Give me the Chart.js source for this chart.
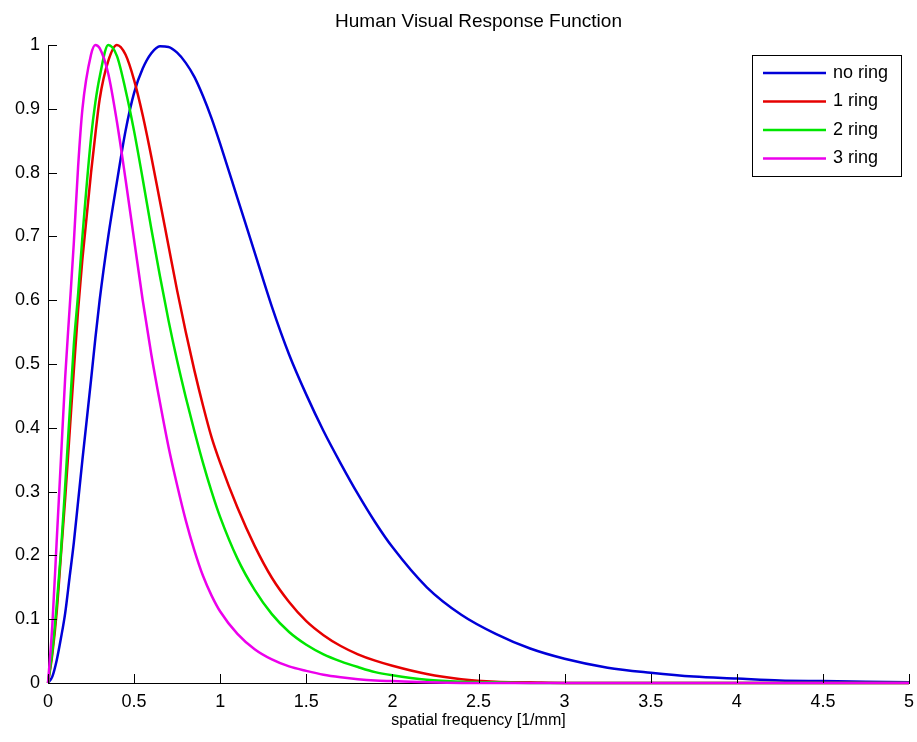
<!DOCTYPE html>
<html lang="en">
<head>
<meta charset="UTF-8">
<title>Human Visual Response Function</title>
<script src="https://cdn.jsdelivr.net/npm/chart.js"></script>
<style>
    html, body { margin: 0; padding: 0; background: #fff; }
    #wrap { width: 917px; height: 742px; position: relative; }
</style>
</head>
<body>
<div id="wrap"><canvas id="grafico"></canvas></div>
<script>
    // spatial frequency [1/mm]
    const freq = [0, 0.025, 0.05, 0.075, 0.1, 0.125, 0.15, 0.175, 0.2, 0.25, 0.275,
        0.3, 0.35, 0.4, 0.45, 0.5, 0.55, 0.6, 0.65, 0.7, 0.75, 0.8, 0.85, 0.9, 0.95, 1.0,
        1.1, 1.2, 1.3, 1.4, 1.5, 1.6, 1.7, 1.8, 1.9, 2.0,
        2.2, 2.4, 2.6, 2.8, 3.0,
        3.25, 3.5, 3.75, 4.0, 4.25, 4.5, 4.75, 5.0];

    const noRing = [0, 0.01, 0.035, 0.07, 0.11, 0.165, 0.22, 0.285, 0.35, 0.475, 0.54,
        0.60, 0.70, 0.785, 0.865, 0.925, 0.963, 0.987, 0.998, 0.997, 0.988, 0.972, 0.950, 0.920, 0.885, 0.845,
        0.760, 0.675, 0.590, 0.515, 0.452, 0.395, 0.344, 0.296, 0.252, 0.213,
        0.150, 0.107, 0.077, 0.054, 0.038,
        0.024, 0.016, 0.010, 0.007, 0.004, 0.003, 0.002, 0.001];

    const oneRing = [0, 0.045, 0.11, 0.2, 0.29, 0.39, 0.49, 0.585, 0.665, 0.80, 0.86,
        0.915, 0.975, 1.0, 0.985, 0.945, 0.89, 0.825, 0.755, 0.685, 0.615, 0.55, 0.49, 0.435, 0.385, 0.345,
        0.275, 0.215, 0.165, 0.127, 0.097, 0.075, 0.058, 0.045, 0.035, 0.027,
        0.014, 0.006, 0.002, 0.001, 0,
        0, 0, 0, 0, 0, 0, 0, 0];

    const twoRing = [0, 0.05, 0.12, 0.205, 0.31, 0.42, 0.53, 0.61, 0.70, 0.855, 0.91,
        0.95, 1.0, 0.983, 0.93, 0.865, 0.79, 0.712, 0.638, 0.568, 0.505, 0.448, 0.395, 0.345, 0.30, 0.26,
        0.195, 0.146, 0.108, 0.080, 0.060, 0.045, 0.034, 0.025, 0.017, 0.012,
        0.005, 0.002, 0.001, 0, 0,
        0, 0, 0, 0, 0, 0, 0, 0];

    const threeRing = [0, 0.09, 0.22, 0.35, 0.48, 0.585, 0.69, 0.81, 0.9, 0.985, 1.0,
        0.995, 0.955, 0.88, 0.79, 0.695, 0.60, 0.515, 0.44, 0.37, 0.31, 0.255, 0.208, 0.168, 0.137, 0.112,
        0.077, 0.053, 0.037, 0.026, 0.019, 0.013, 0.009, 0.006, 0.004, 0.003,
        0.001, 0, 0, 0, 0,
        0, 0, 0, 0, 0, 0, 0, 0];

    const seriesNames = ['no ring', '1 ring', '2 ring', '3 ring'];
    const seriesData = [noRing, oneRing, twoRing, threeRing];
    const seriesColors = ['#0000d8', '#e60000', '#00e600', '#ec00ec'];

    const chartTitle = 'Human Visual Response Function';
    const fontFam = '"Liberation Sans", Arial, Helvetica, sans-serif';

    // matlab style number labels: 1, 0.5, 0.1 ...
    const fmt = v => String(Math.round(v * 100) / 100);

    // title centred over the axes, not over the whole canvas
    const axesTitle = {
        id: 'axesTitle',
        afterDraw(chart) {
            const ctx = chart.ctx;
            const area = chart.chartArea;
            ctx.save();
            ctx.fillStyle = '#000';
            ctx.font = '19px ' + fontFam;
            ctx.textAlign = 'center';
            ctx.textBaseline = 'middle';
            ctx.fillText(chartTitle, (area.left + area.right) / 2, 22);
            ctx.restore();
        }
    };

    // ticks pointing inward, like matlab
    const inwardTicks = {
        id: 'inwardTicks',
        afterDatasetsDraw(chart) {
            const ctx = chart.ctx;
            const area = chart.chartArea;
            const len = 9;
            ctx.save();
            ctx.strokeStyle = '#000';
            ctx.lineWidth = 1;
            ctx.beginPath();
            chart.scales.x.ticks.forEach(t => {
                const px = Math.round(chart.scales.x.getPixelForValue(t.value)) + 0.5;
                ctx.moveTo(px, area.bottom);
                ctx.lineTo(px, area.bottom - len);
            });
            chart.scales.y.ticks.forEach(t => {
                const py = Math.round(chart.scales.y.getPixelForValue(t.value)) + 0.5;
                ctx.moveTo(area.left, py);
                ctx.lineTo(area.left + len, py);
            });
            ctx.stroke();
            ctx.restore();
        }
    };

    // boxed legend in the upper right corner
    const boxLegend = {
        id: 'boxLegend',
        afterDraw(chart) {
            const ctx = chart.ctx;
            const area = chart.chartArea;
            const w = 149, h = 121;
            const x0 = area.right - 8 - w;
            const y0 = area.top + 10;
            ctx.save();
            ctx.fillStyle = '#fff';
            ctx.fillRect(x0, y0, w, h);
            ctx.strokeStyle = '#000';
            ctx.lineWidth = 1;
            ctx.strokeRect(x0 + 0.5, y0 + 0.5, w, h);
            ctx.font = '18px ' + fontFam;
            ctx.textBaseline = 'middle';
            chart.data.datasets.forEach((ds, i) => {
                const y = y0 + 18 + i * 28.5;
                ctx.strokeStyle = ds.borderColor;
                ctx.lineWidth = 2.5;
                ctx.beginPath();
                ctx.moveTo(x0 + 11, y);
                ctx.lineTo(x0 + 74, y);
                ctx.stroke();
                ctx.fillStyle = '#000';
                ctx.fillText(ds.label, x0 + 81, y);
            });
            ctx.restore();
        }
    };

    const ctx = document.getElementById('grafico').getContext('2d');
    new Chart(ctx, {
        type: 'line',
        data: {
            datasets: seriesNames.map((name, i) => ({
                label: name,
                data: freq.map((f, j) => ({ x: f, y: seriesData[i][j] })),
                borderColor: seriesColors[i],
                backgroundColor: seriesColors[i],
                borderWidth: 2.5,
                pointRadius: 0,
                cubicInterpolationMode: 'monotone',
                clip: false,
                order: seriesNames.length - i
            }))
        },
        options: {
            responsive: true,
            maintainAspectRatio: false,
            animation: false,
            layout: { padding: { left: 0, right: 8, top: 45, bottom: 0 } },
            plugins: {
                legend: { display: false },
                tooltip: { enabled: false },
                title: { display: false }
            },
            scales: {
                x: {
                    type: 'linear',
                    min: 0,
                    max: 5,
                    grid: { display: false, drawTicks: false },
                    border: { display: true, color: '#000', width: 1 },
                    ticks: { stepSize: 0.5, color: '#000', padding: 8, maxRotation: 0,
                             callback: fmt,
                             font: { family: fontFam, size: 18 } },
                    title: {
                        display: true,
                        text: 'spatial frequency [1/mm]',
                        color: '#000',
                        font: { family: fontFam, size: 16 },
                        padding: { top: 0, bottom: 12 }
                    },
                    afterFit: s => { s.height = 59; s.paddingLeft = 0; s.paddingRight = 0; }
                },
                y: {
                    min: 0,
                    max: 1,
                    grid: { display: false, drawTicks: false },
                    border: { display: true, color: '#000', width: 1 },
                    ticks: { stepSize: 0.1, color: '#000', padding: 8,
                             callback: fmt,
                             font: { family: fontFam, size: 18 } },
                    afterFit: s => { s.width = 48; s.paddingTop = 0; s.paddingBottom = 0; }
                }
            }
        },
        plugins: [inwardTicks, boxLegend, axesTitle]
    });
</script>
</body>
</html>
